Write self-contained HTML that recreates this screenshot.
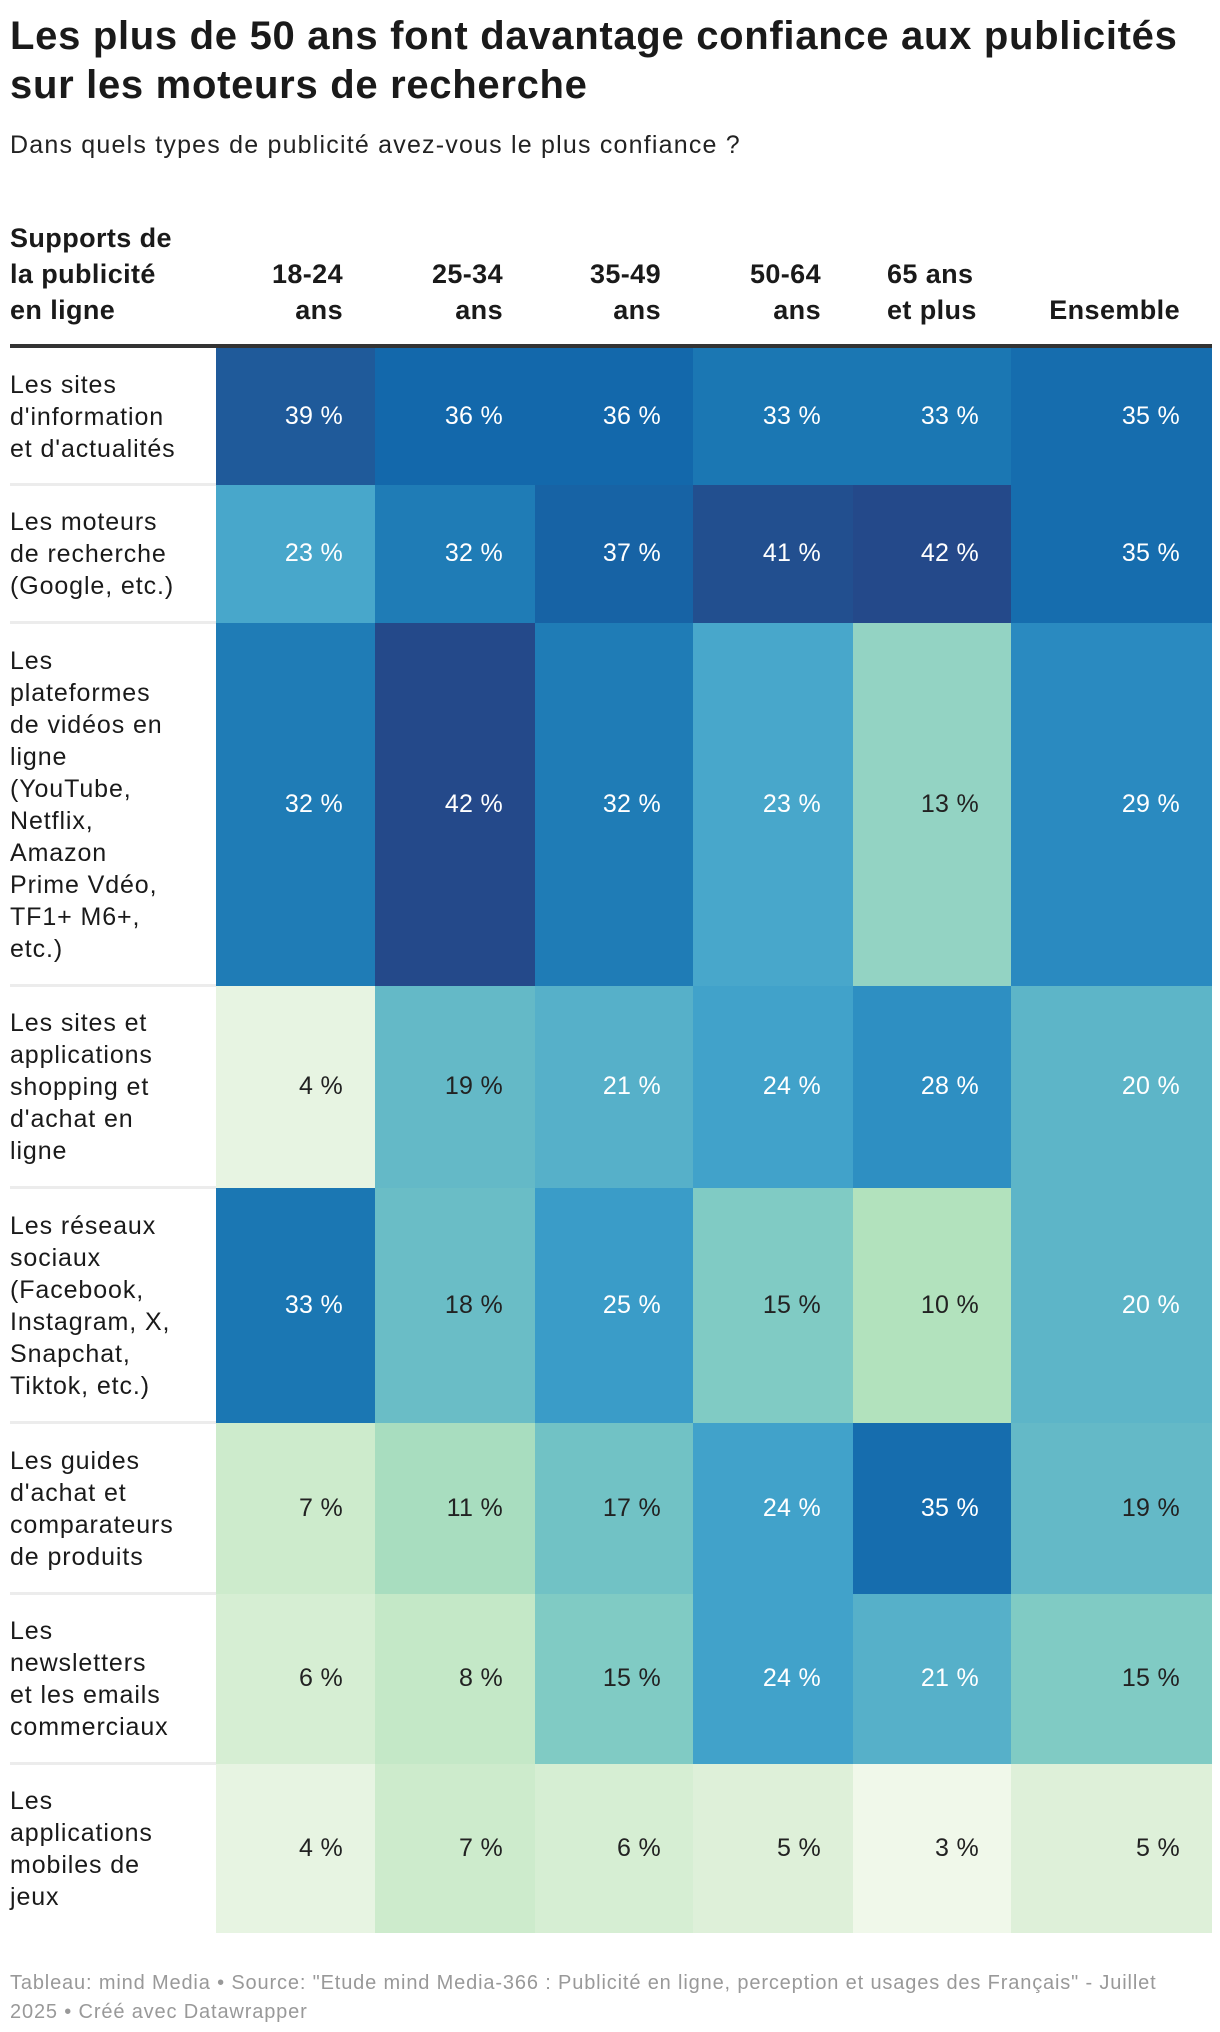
<!DOCTYPE html>
<html><head><meta charset="utf-8">
<style>
body{margin:0;background:#fff;font-family:"Liberation Sans",sans-serif;color:#1a1a1a;}
#wrap{position:relative;width:1220px;height:2032px;overflow:hidden;}
.t{position:absolute;white-space:nowrap;}
#title{left:10px;top:12px;font-size:40px;font-weight:bold;line-height:49px;letter-spacing:0.7px;}
#sub{left:10px;top:131px;font-size:25px;color:#222;letter-spacing:1.2px;}
.hd{position:absolute;font-size:27px;font-weight:bold;line-height:36px;text-align:right;white-space:nowrap;letter-spacing:0.4px;}
.lab{position:absolute;left:10px;font-size:25px;line-height:32px;white-space:nowrap;letter-spacing:0.9px;}
.cell{position:absolute;}
.val{position:absolute;font-size:25px;text-align:right;white-space:nowrap;letter-spacing:0.3px;}
#foot{left:10px;top:1969px;font-size:20px;color:#999;line-height:29px;letter-spacing:0.85px;}
</style></head><body>
<div id="wrap">
<div id="title" class="t">Les plus de 50 ans font davantage confiance aux publicités<br>sur les moteurs de recherche</div>
<div id="sub" class="t">Dans quels types de publicité avez-vous le plus confiance ?</div>
<div class="hd" style="left:10px;top:220px;text-align:left">Supports de<br>la publicité<br>en ligne</div>
<div id="hline" style="position:absolute;left:10px;top:344px;width:1202px;height:4px;background:#333"></div>
<div id="foot" class="t">Tableau: mind Media • Source: "Etude mind Media-366 : Publicité en ligne, perception et usages des Français" - Juillet<br>2025 • Créé avec Datawrapper</div>
</div>
<script>
const columns=["18-24<br>ans","25-34<br>ans","35-49<br>ans","50-64<br>ans","65 ans<br>et plus","Ensemble"];
const categories=["Les sites<br>d'information<br>et d'actualités","Les moteurs<br>de recherche<br>(Google, etc.)","Les<br>plateformes<br>de vidéos en<br>ligne<br>(YouTube,<br>Netflix,<br>Amazon<br>Prime Vdéo,<br>TF1+ M6+,<br>etc.)","Les sites et<br>applications<br>shopping et<br>d'achat en<br>ligne","Les réseaux<br>sociaux<br>(Facebook,<br>Instagram, X,<br>Snapchat,<br>Tiktok, etc.)","Les guides<br>d'achat et<br>comparateurs<br>de produits","Les<br>newsletters<br>et les emails<br>commerciaux","Les<br>applications<br>mobiles de<br>jeux"];
const v1824=[39,23,32,4,33,7,6,4];
const v2534=[36,32,42,19,18,11,8,7];
const v3549=[36,37,32,21,25,17,15,6];
const v5064=[33,41,23,24,15,24,24,5];
const v65=[33,42,13,28,10,35,21,3];
const vAll=[35,35,29,20,20,19,15,5];
const series=[v1824,v2534,v3549,v5064,v65,vAll];
const colX=[216,375,535,693,853,1011,1212];
const rowY=[348,485,623,986,1188,1423,1594,1764,1933];
const stops=[[3,[240,248,234]],[5,[222,240,217]],[7,[205,235,204]],[10,[178,226,189]],[13,[147,211,195]],[15,[128,203,196]],[18,[106,189,198]],[20,[93,181,200]],[23,[72,167,203]],[25,[58,156,200]],[29,[42,138,192]],[33,[27,119,179]],[36,[19,104,171]],[39,[31,90,154]],[42,[36,73,138]]];
function color(v){
  for(let i=0;i<stops.length-1;i++){const a=stops[i],b=stops[i+1];
    if(v<=b[0]){const t=Math.max(0,(v-a[0])/(b[0]-a[0]));
      return 'rgb('+a[1].map((c,k)=>Math.round(c+(b[1][k]-c)*t)).join(',')+')';}}
  return 'rgb(36,73,138)';
}
const W=document.getElementById('wrap');
columns.forEach((c,j)=>{
  const d=document.createElement('div');d.className='hd';
  
  
  d.innerHTML=c;
  d.style.right=(1220-colX[j+1]+32)+'px';d.style.top=(c.includes('<br>')?256:292)+'px';
  if(j===4){d.style.textAlign='left';d.style.right='';d.style.left='887px';}
  W.appendChild(d);
});
categories.forEach((cat,i)=>{
  const y0=rowY[i],y1=rowY[i+1],h=y1-y0;
  if(i>0){const s=document.createElement('div');
    
    
    s.style.cssText='position:absolute;left:10px;width:206px;height:3px;background:#ececec;top:'+(y0-2)+'px';W.appendChild(s);}
  const l=document.createElement('div');l.className='lab';
  
  
  l.innerHTML=cat;const n=cat.split('<br>').length;
  l.style.top=(y0+h/2-n*16)+'px';W.appendChild(l);
  series.forEach((s,j)=>{
    const v=s[i];
    const c=document.createElement('div');c.className='cell';
    
    
    c.style.cssText+='left:'+colX[j]+'px;width:'+(colX[j+1]-colX[j])+'px;top:'+y0+'px;height:'+h+'px;background:'+color(v);
    W.appendChild(c);
    const t=document.createElement('div');t.className='val';
    
    
    t.textContent=v+' %';
    t.style.right=(1220-colX[j+1]+32)+'px';t.style.top=(y0+h/2-15)+'px';
    t.style.color=v>=20?'#fff':'#222';
    W.appendChild(t);
  });
});
</script>
</body></html>
